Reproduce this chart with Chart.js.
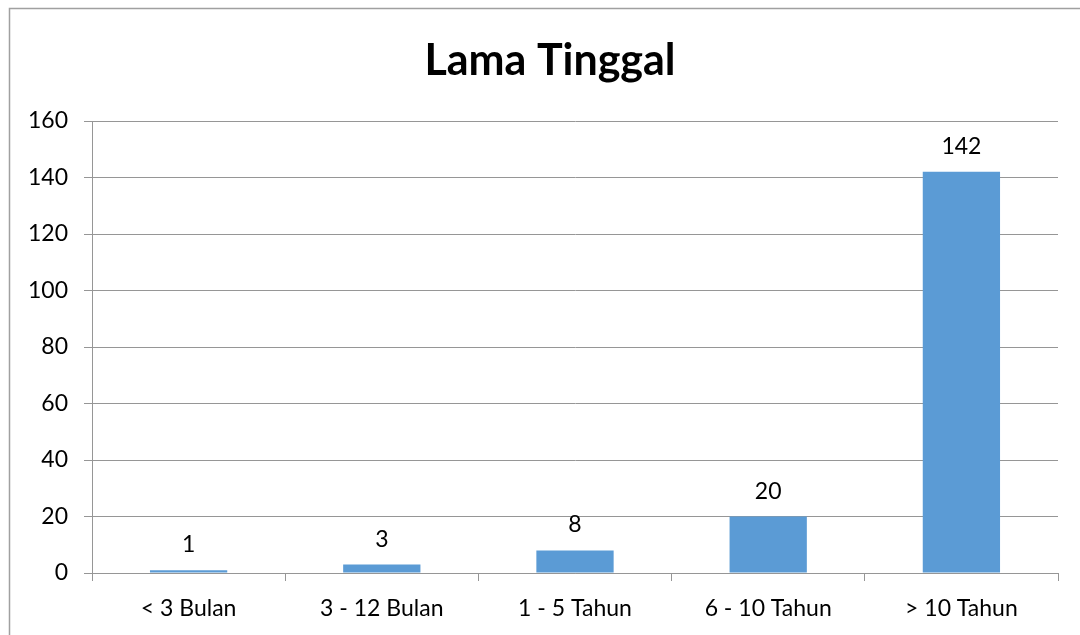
<!DOCTYPE html>
<html><head><meta charset="utf-8">
<script src="https://cdn.jsdelivr.net/npm/chart.js@4"></script>
<style>html,body{margin:0;padding:0;background:#fff}#wrap{width:1080px;height:635px}</style>
</head><body><div id="wrap"><canvas id="c" width="1080" height="635"></canvas></div>
<script>
const categories = ["< 3 Bulan", "3 - 12 Bulan", "1 - 5 Tahun", "6 - 10 Tahun", "> 10 Tahun"];
const values = [1, 3, 8, 20, 142];
const titleText = "Lama Tinggal";
const FONT = "Lato, 'Open Sans', sans-serif";

const frame = {
  id: 'frame',
  beforeDraw(chart) {
    const ctx = chart.ctx;
    ctx.save();
    ctx.fillStyle = '#fff';
    ctx.fillRect(0, 0, chart.width, chart.height);
    ctx.strokeStyle = '#a0a0a0';
    ctx.lineWidth = 1.5;
    ctx.strokeRect(9.5, 8.5, 1200, 800);
    ctx.fillStyle = '#000';
    ctx.font = 'bold 43px ' + FONT;
    ctx.textAlign = 'center';
    ctx.textBaseline = 'alphabetic';
    ctx.fillText(titleText, 550, 75);
    ctx.restore();
  },
  afterDatasetsDraw(chart) {
    const ctx = chart.ctx;
    const meta = chart.getDatasetMeta(0);
    ctx.save();
    ctx.fillStyle = '#000';
    ctx.font = '23px ' + FONT;
    ctx.textAlign = 'center';
    ctx.textBaseline = 'alphabetic';
    meta.data.forEach((bar, i) => {
      ctx.fillText(String(values[i]), bar.x, bar.y - 18);
    });
    ctx.restore();
  }
};

new Chart(document.getElementById('c'), {
  type: 'bar',
  data: { labels: categories, datasets: [{ data: values, backgroundColor: '#5B9BD5', barPercentage: 0.4, categoryPercentage: 1 }] },
  options: {
    responsive: false, animation: false, devicePixelRatio: 1,
    layout: { padding: { top: 121, right: 22, left: 0, bottom: 0 } },
    plugins: { legend: { display: false }, tooltip: { enabled: false }, title: { display: false } },
    scales: {
      x: {
        afterFit(s) { s.height = 62; },
        grid: { display: true, drawOnChartArea: false, offset: true, color: '#969696', tickLength: 8 },
        border: { color: '#969696', width: 1 },
        ticks: { color: '#000', font: { family: FONT, size: 23 }, padding: 14 }
      },
      y: {
        min: 0, max: 160,
        afterFit(s) { s.width = 92; },
        grid: { color: '#969696', tickLength: 8 },
        border: { color: '#969696', width: 1 },
        ticks: { stepSize: 20, color: '#000', font: { family: FONT, size: 23 }, padding: 16 }
      }
    }
  },
  plugins: [frame]
});
</script></body></html>
